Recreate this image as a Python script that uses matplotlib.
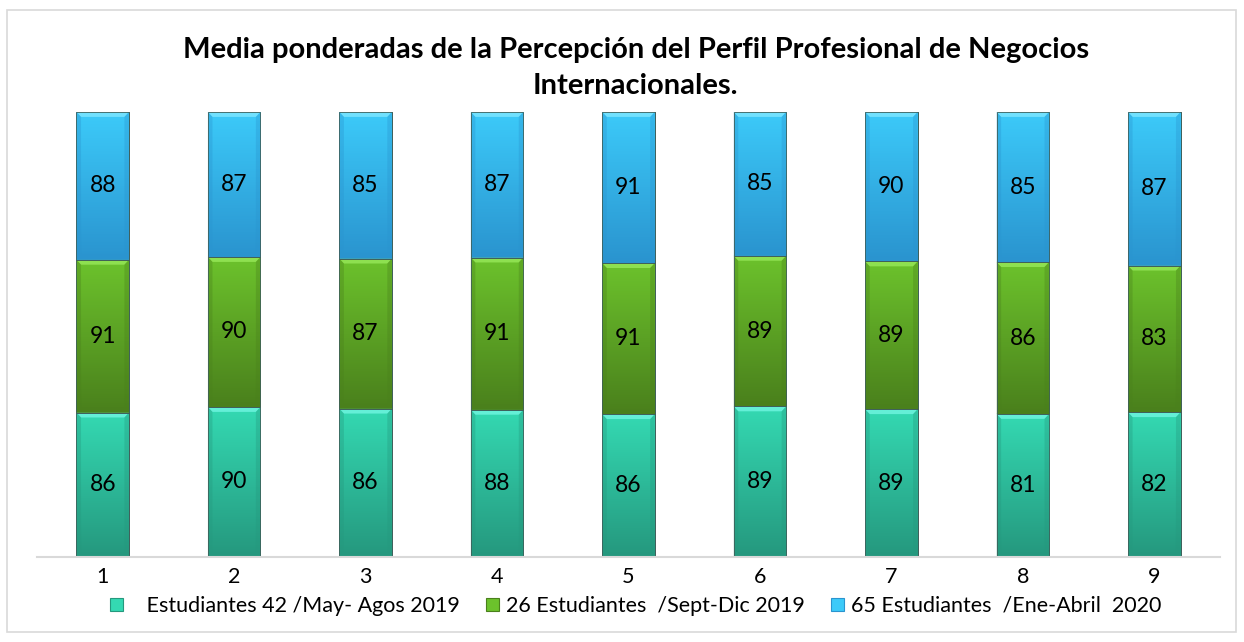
import numpy as np
import matplotlib.pyplot as plt
from matplotlib.patches import Rectangle, Polygon, Patch
from matplotlib.colors import LinearSegmentedColormap

plt.rcParams['font.family'] = ['Lato', 'DejaVu Sans']

# Datos: medias ponderadas por grupo de estudiantes
categorias = ['1', '2', '3', '4', '5', '6', '7', '8', '9']
may_agos_2019 = [86, 90, 86, 88, 86, 89, 89, 81, 82]
sept_dic_2019 = [91, 90, 87, 91, 91, 89, 89, 86, 83]
ene_abril_2020 = [88, 87, 85, 87, 91, 85, 90, 85, 87]
series_nombres = ['   Estudiantes 42 /May- Agos 2019',
                  '26 Estudiantes  /Sept-Dic 2019',
                  '65 Estudiantes  /Ene-Abril  2020']
titulo = 'Media ponderadas de la Percepción del Perfil Profesional de Negocios\nInternacionales.'

# colores: (claro arriba, oscuro abajo, bisel)
estilos = [('#34d9b2', '#25987e', '#6af2dc'),
           ('#6cc22c', '#4a801c', '#93e455'),
           ('#3ccaf9', '#2a94cf', '#78e4ff')]

series = [np.array(may_agos_2019), np.array(sept_dic_2019), np.array(ene_abril_2020)]
totales = series[0] + series[1] + series[2]

fig = plt.figure(figsize=(12.44, 6.42), dpi=100)
fig.patches.append(Rectangle((7 / 1244, 10 / 642), 1229 / 1244, 622 / 642,
                             transform=fig.transFigure, fill=False,
                             edgecolor='#d9d9d9', linewidth=1.2))

ax = fig.add_axes([37 / 1244, 85 / 642, 1183 / 1244, 445 / 642])
x = np.arange(len(categorias))
ancho = 0.40
bx = 0.035   # bisel horizontal (datos)
by = 0.011   # bisel vertical (datos)

base = np.zeros(len(categorias))
for vals, (c_top, c_bot, c_bis) in zip(series, estilos):
    frac = vals / totales
    barras = ax.bar(x, frac, ancho, bottom=base, color=c_top,
                    edgecolor='#3a5a55', linewidth=0.6, zorder=2)
    cmap = LinearSegmentedColormap.from_list('g', [c_bot, c_top])
    grad = np.linspace(0, 1, 64).reshape(-1, 1)
    for b, v in zip(barras, vals):
        x0, y0 = b.get_x(), b.get_y()
        w, h = b.get_width(), b.get_height()
        im = ax.imshow(grad, cmap=cmap, origin='lower', aspect='auto',
                       extent=(x0, x0 + w, y0, y0 + h), zorder=2.1)
        im.set_clip_path(b)
        # bisel superior claro
        ax.add_patch(Polygon([(x0, y0 + h), (x0 + w, y0 + h),
                              (x0 + w - bx, y0 + h - by), (x0 + bx, y0 + h - by)],
                             closed=True, facecolor=c_bis, edgecolor='none',
                             alpha=0.9, zorder=2.2))
        # bisel inferior oscuro
        ax.add_patch(Polygon([(x0, y0), (x0 + w, y0),
                              (x0 + w - bx, y0 + by), (x0 + bx, y0 + by)],
                             closed=True, facecolor=c_bot, edgecolor='none',
                             alpha=0.9, zorder=2.2))
        # laterales
        for lado in (0, 1):
            xa = x0 if lado == 0 else x0 + w
            xb = x0 + bx if lado == 0 else x0 + w - bx
            ax.add_patch(Polygon([(xa, y0), (xa, y0 + h), (xb, y0 + h - by), (xb, y0 + by)],
                                 closed=True, facecolor=c_bot, edgecolor='none',
                                 alpha=0.35, zorder=2.2))
        ax.add_patch(Rectangle((x0, y0), w, h, fill=False, edgecolor='#3f5f5a',
                               linewidth=0.6, zorder=2.3))
        ax.text(x0 + w / 2, y0 + h / 2, str(v), ha='center', va='center',
                fontsize=16.5, color='black', zorder=3)
    base = base + frac

ax.set_xlim(-0.5, len(categorias) - 0.5)
ax.set_ylim(0, 1)
ax.set_xticks(x)
ax.set_xticklabels(categorias, fontsize=15.5)
ax.tick_params(axis='x', length=0, pad=7)
ax.set_yticks([])
for s in ('left', 'right', 'top'):
    ax.spines[s].set_visible(False)
ax.spines['bottom'].set_color('#d9d9d9')
ax.spines['bottom'].set_linewidth(1.5)

fig.text(0.511, 1 - 68 / 642, titulo, ha='center', va='center',
         fontsize=21, fontweight='bold', linespacing=1.5)

handles = [Patch(facecolor=e[0], edgecolor=e[1], linewidth=0.8) for e in estilos]
fig.legend(handles, series_nombres, loc='center', ncol=3,
           bbox_to_anchor=(0.511, 1 - 606 / 642), frameon=False, fontsize=15.5,
           handlelength=0.6, handleheight=0.6, handletextpad=0.35,
           columnspacing=1.2, borderpad=0)

fig.savefig('out.png', dpi=100)
